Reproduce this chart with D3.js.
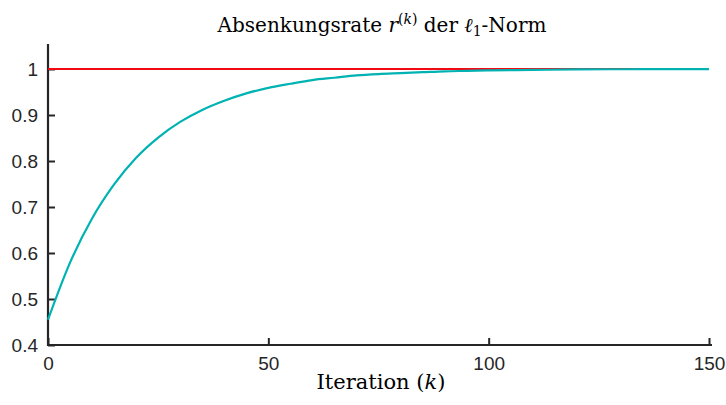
<!DOCTYPE html>
<html><head><meta charset="utf-8">
<script src="https://cdn.jsdelivr.net/npm/d3@7"></script>
<style>body{margin:0;background:#fff}svg{display:block}</style>
</head><body>
<script>
const iterations = [0,5,10,15,20,25,30,35,40,45,50,55,60,65,70,75,80,85,90,95,100,110,120,130,140,150];
const rateL1 = [0.455,0.579,0.675,0.749,0.807,0.851,0.885,0.911,0.931,0.947,0.959,0.968,0.976,0.981,0.986,0.989,0.991,0.993,0.995,0.996,0.997,0.998,0.999,0.9995,0.9998,0.9999];
const refLevel = [1,1];
const refIter = [0,150];
const xTicks = [0,50,100,150];
const yTicks = [0.4,0.5,0.6,0.7,0.8,0.9,1];

const W=726,H=405;
const svg=d3.select("body").append("svg").attr("width",W).attr("height",H);
const x=d3.scaleLinear().domain([0,150]).range([48,709]);
const y=d3.scaleLinear().domain([0.4,1.05]).range([345,46]);
const axisColor="#262626";
const sans="'Liberation Sans', Arial, Helvetica, sans-serif";
const serif="'DejaVu Serif','Liberation Serif',serif";

const xa=svg.append("g").attr("transform","translate(0,345)")
  .call(d3.axisBottom(x).tickValues(xTicks).tickSize(-7).tickPadding(12).tickFormat(d3.format("d")));
const ya=svg.append("g").attr("transform","translate(48,0)")
  .call(d3.axisLeft(y).tickValues(yTicks).tickSize(-7).tickPadding(10).tickFormat(d=>d===1?"1":d3.format(".1f")(d)));
[xa,ya].forEach(g=>{
  g.select(".domain").attr("stroke",axisColor).attr("stroke-width",2.2);
  g.selectAll(".tick line").attr("stroke",axisColor).attr("stroke-width",2);
  g.selectAll(".tick text").attr("fill",axisColor).style("font-family",sans).style("font-size","19px");
});
xa.select(".domain").attr("d","M47,0H712");
ya.select(".domain").attr("d","M0,346V44");
xa.selectAll(".tick text").attr("dy","0").attr("y",25);
ya.selectAll(".tick text").attr("dy","0.36em");

const line=d3.line().x(d=>x(d[0])).y(d=>y(d[1]));
svg.append("path").datum(refIter.map((k,i)=>[k,refLevel[i]]))
  .attr("d",line).attr("fill","none").attr("stroke","#f00a14").attr("stroke-width",2);
svg.append("path").datum(iterations.map((k,i)=>[k,rateL1[i]]))
  .attr("d",line.curve(d3.curveMonotoneX)).attr("fill","none").attr("stroke","#00b2b2").attr("stroke-width",2.2);

// title
const t=svg.append("text").attr("x",382).attr("y",32).attr("text-anchor","middle")
  .style("font-family",serif).style("font-size","20px").attr("fill","#000");
t.append("tspan").text("Absenkungsrate ");
t.append("tspan").style("font-style","italic").text("r");
t.append("tspan").attr("dy",-8).style("font-size","14px").text("(");
t.append("tspan").style("font-size","14px").style("font-style","italic").text("k");
t.append("tspan").style("font-size","14px").text(")");
t.append("tspan").attr("dy",8).text(" der ");
t.append("tspan").style("font-style","italic").text("ℓ");
t.append("tspan").attr("dy",4).style("font-size","14px").text("1");
t.append("tspan").attr("dy",-4).text("-Norm");

// x label
const xl=svg.append("text").attr("x",381).attr("y",389).attr("text-anchor","middle")
  .style("font-family",serif).style("font-size","21px").attr("fill","#000");
xl.append("tspan").text("Iteration (");
xl.append("tspan").style("font-style","italic").text("k");
xl.append("tspan").text(")");
</script>
</body></html>
